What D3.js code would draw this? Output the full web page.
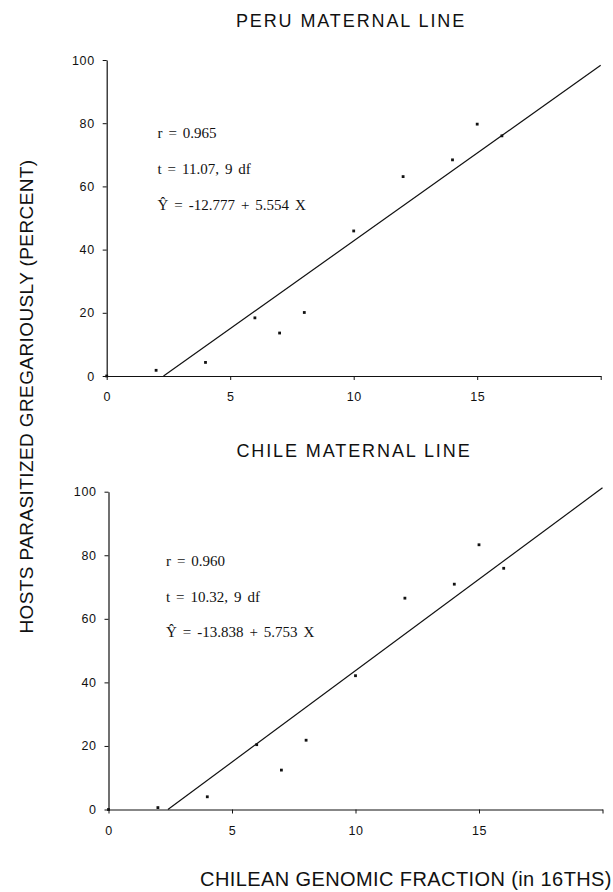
<!DOCTYPE html>
<meta charset="utf-8">
<style>
body { margin: 0; background: #fff; }
text { font-family: "Liberation Sans", Arial, sans-serif; fill: #111; }
.tick text { font-size: 12.5px; letter-spacing: 0.6px; }
.stat { font-family: "Liberation Serif", "Times New Roman", serif; font-size: 15px; word-spacing: 2.2px; }
.title { font-size: 18px; letter-spacing: 1.9px; }
.axlabel { font-size: 19px; letter-spacing: 0.4px; }
.xlabel { font-size: 20px; letter-spacing: 0.4px; }
</style>
<svg width="613" height="892"></svg>
<script src="https://d3js.org/d3.v7.min.js"></script>
<script>

// chilean genomic fraction (16ths)
var fraction = [0, 2, 4, 6, 7, 8, 10, 12, 14, 15, 16];

// hosts parasitized gregariously (percent)
var peruValues  = [0, 1.8, 4.3, 18.4, 13.6, 20.1, 45.9, 63.1, 68.4, 79.7, 76.0];
var chileValues = [0, 0.6, 4.0, 20.4, 12.4, 21.8, 42.1, 66.5, 70.9, 83.3, 75.9];

// regression: intercept, slope
var peruFit  = [-12.777, 5.554];
var chileFit = [-13.838, 5.753];

var peruStats  = ["r = 0.965", "t = 11.07, 9 df", "\u0176 = -12.777 + 5.554 X"];
var chileStats = ["r = 0.960", "t = 10.32, 9 df", "\u0176 = -13.838 + 5.753 X"];

var xTicks = [0, 5, 10, 15, 20];
var yTicks = [0, 20, 40, 60, 80, 100];

var svg = d3.select("svg");

function panel(opt) {
  var x = d3.scaleLinear().domain([0, 20]).range([opt.left, opt.left + 494]);
  var y = d3.scaleLinear().domain([0, 100]).range([opt.bottom, opt.top]);
  var g = svg.append("g");

  g.append("text")
      .attr("class", "title")
      .attr("x", opt.titleX)
      .attr("y", opt.titleY)
      .attr("text-anchor", "middle")
      .text(opt.title);

  var xa = g.append("g")
      .attr("transform", "translate(0," + opt.bottom + ")")
      .call(d3.axisBottom(x)
          .tickValues(xTicks)
          .tickSize(4)
          .tickSizeOuter(0)
          .tickFormat(function(d) { return d === 20 ? "" : d; }));
  xa.selectAll(".tick text").attr("y", 25).attr("dy", 0);

  var ya = g.append("g")
      .attr("transform", "translate(" + opt.left + ",0)")
      .call(d3.axisLeft(y)
          .tickValues(yTicks)
          .tickSize(4)
          .tickSizeOuter(0));
  ya.selectAll(".tick text").attr("x", -12);

  g.selectAll(".domain").attr("stroke", "#111").attr("stroke-width", 1.2);
  g.selectAll(".tick line").attr("stroke", "#111").attr("stroke-width", 1);

  // fitted line, from where it crosses zero to the end of the axis
  var fit = opt.fit;
  var x0 = -fit[0] / fit[1];
  g.append("line")
      .attr("x1", x(x0)).attr("y1", y(0))
      .attr("x2", x(20)).attr("y2", y(fit[0] + fit[1] * 20))
      .attr("stroke", "#111")
      .attr("stroke-width", 1.2);

  g.selectAll("rect.pt")
    .data(opt.values)
    .enter().append("rect")
      .attr("class", "pt")
      .attr("x", function(d, i) { return x(fraction[i]) - 1.4; })
      .attr("y", function(d) { return y(d) - 1.4; })
      .attr("width", 2.8)
      .attr("height", 2.8)
      .attr("fill", "#111");

  g.selectAll("text.stat")
    .data(opt.stats)
    .enter().append("text")
      .attr("class", "stat")
      .attr("x", opt.statX)
      .attr("y", function(d, i) { return opt.statY + i * 35.8; })
      .text(function(d) { return d; });
}

panel({
  title: "PERU MATERNAL LINE", titleX: 351, titleY: 26.7,
  left: 106.7, top: 60, bottom: 376,
  values: peruValues, fit: peruFit, stats: peruStats,
  statX: 157.5, statY: 138.3
});

panel({
  title: "CHILE MATERNAL LINE", titleX: 354, titleY: 457.3,
  left: 108.5, top: 491.7, bottom: 809.5,
  values: chileValues, fit: chileFit, stats: chileStats,
  statX: 166, statY: 565.7
});

svg.append("text")
    .attr("class", "axlabel")
    .attr("transform", "translate(33,396.5) rotate(-90)")
    .attr("text-anchor", "middle")
    .text("HOSTS PARASITIZED GREGARIOUSLY (PERCENT)");

svg.append("text")
    .attr("class", "xlabel")
    .attr("x", 406)
    .attr("y", 885.7)
    .attr("text-anchor", "middle")
    .text("CHILEAN GENOMIC FRACTION (in 16THS)");

</script>
